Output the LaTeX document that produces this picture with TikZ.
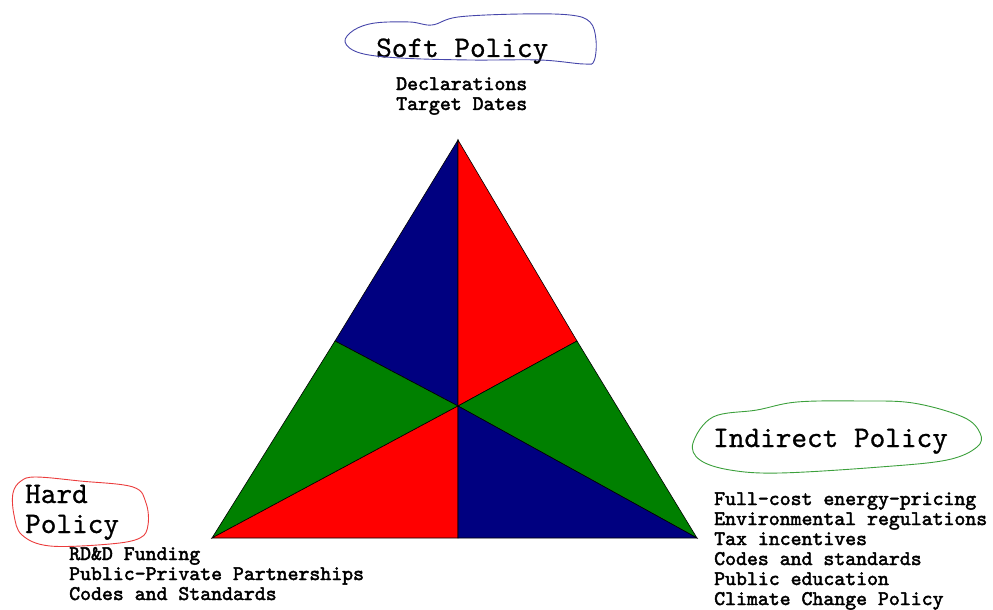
\documentclass[tikz,border=0pt]{standalone}
\usepackage{fontspec}
\newfontfamily\boldmono{lmmono10-regular}[Extension=.otf, FakeBold=2.2]
\newfontfamily\titlemono{lmmono10-regular}[Extension=.otf, FakeBold=0.8]
\definecolor{navy}{RGB}{0,0,128}
\definecolor{brightred}{RGB}{255,0,0}
\definecolor{darkgreen}{RGB}{0,128,0}
\definecolor{penblue}{RGB}{70,70,170}
\definecolor{penred}{RGB}{235,60,60}
\definecolor{pengreen}{RGB}{60,160,60}

\begin{document}
\begin{tikzpicture}[x=1pt, y=-1pt,
    slice/.style={draw=black, line width=0.6pt},
    heading/.style={font=\titlemono\fontsize{29.8}{30}\selectfont, inner sep=0pt, anchor=base west, align=left},
    items/.style={font=\boldmono\fontsize{20.8}{20}\selectfont, inner sep=0pt, anchor=base west, align=left},
    scribble/.style={line width=0.9pt}]

    \useasboundingbox (0,0) rectangle (993,610);

    \coordinate (apex) at (458,140);
    \coordinate (left) at (212,538);
    \coordinate (right) at (697,538);
    \coordinate (mid) at (458,406);
    \coordinate (lmid) at (335,341);
    \coordinate (rmid) at (577,341);
    \coordinate (bmid) at (458,538);

    \filldraw[slice, fill=navy] (apex) -- (mid) -- (lmid) -- cycle;
    \filldraw[slice, fill=brightred] (apex) -- (mid) -- (rmid) -- cycle;
    \filldraw[slice, fill=darkgreen] (lmid) -- (mid) -- (left) -- cycle;
    \filldraw[slice, fill=darkgreen] (rmid) -- (mid) -- (right) -- cycle;
    \filldraw[slice, fill=brightred] (left) -- (mid) -- (bmid) -- cycle;
    \filldraw[slice, fill=navy] (bmid) -- (mid) -- (right) -- cycle;

    \node[heading] (soft) at (376,57) {Soft Policy};
    \node[items] (softlist) at (396,110) {Declarations\\Target Dates};

    \node[heading] (hard) at (25,533) {Hard\\Policy};
    \node[items] (hardlist) at (69,600) {RD\&D Funding\\Public-Private Partnerships\\Codes and Standards};

    \node[heading] (indirect) at (713,447) {Indirect Policy};
    \node[items] (indirectlist) at (714,605) {Full-cost energy-pricing\\Environmental regulations\\Tax incentives\\Codes and standards\\Public education\\Climate Change Policy};

    \draw[scribble, penblue] plot[smooth cycle, tension=0.6] coordinates {
        (345,42) (354,30) (375,23) (410,22) (432,25) (458,17) (520,14) (570,15)
        (590,22) (596,40) (594,61) (584,64) (540,60) (470,60) (400,58) (360,53)};
    \draw[scribble, penred] plot[smooth cycle, tension=0.6] coordinates {
        (13,493) (21,481) (36,477) (80,481) (133,487) (146,503) (148,525)
        (140,538) (110,544) (50,546) (22,535) (14,515)};
    \draw[scribble, pengreen] plot[smooth cycle, tension=0.6] coordinates {
        (693,443) (713,417) (757,410) (797,402) (860,401) (913,403) (963,417)
        (980,433) (977,447) (947,460) (880,467) (780,473) (730,470) (700,460)};
\end{tikzpicture}
\end{document}
